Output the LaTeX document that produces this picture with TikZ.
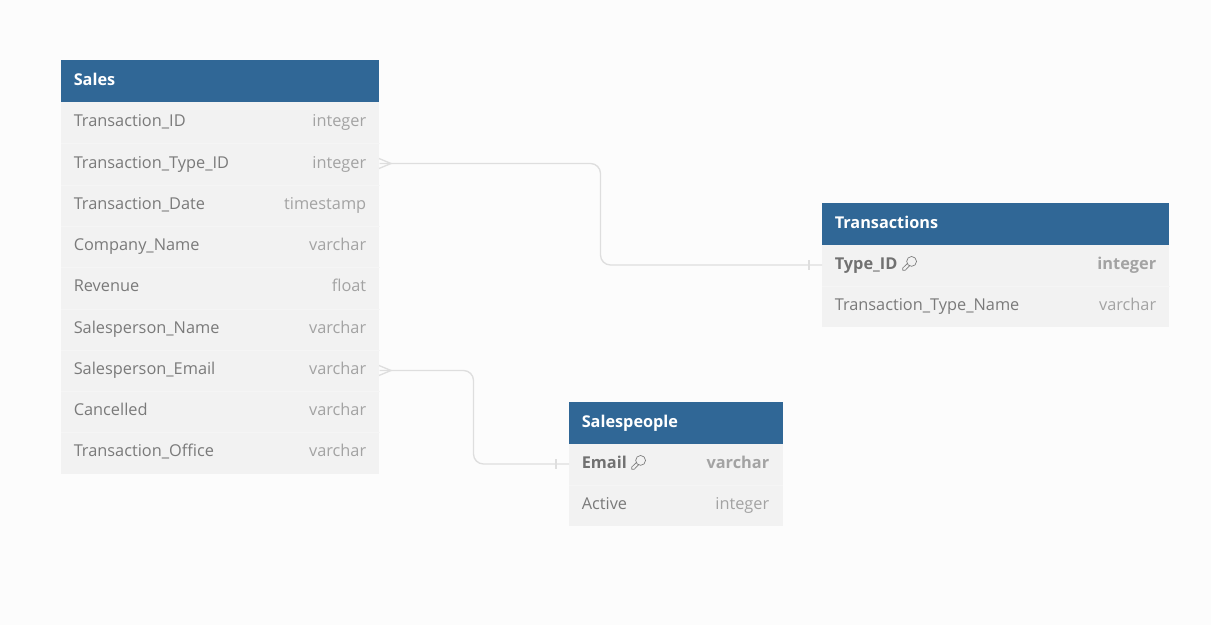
\documentclass[tikz,border=0pt]{standalone}
\usepackage{fontspec}
\setmainfont{Open Sans}
\usetikzlibrary{calc}
\definecolor{pagebg}{HTML}{FCFCFC}
\definecolor{headblue}{HTML}{306796}
\definecolor{rowbg}{HTML}{F2F2F2}
\definecolor{rowline}{HTML}{F5F5F5}
\definecolor{nametxt}{HTML}{7A7A7A}
\definecolor{typetxt}{HTML}{A3A3A3}
\definecolor{boldtxt}{HTML}{717171}
\definecolor{conn}{HTML}{DEDEDE}
\tikzset{
  x=0.75pt,y=-0.75pt,
  headbox/.style={fill=headblue,draw=none,inner sep=0pt,anchor=north west,minimum height=31pt},
  rowbox/.style={fill=rowbg,draw=none,inner sep=0pt,anchor=north west,minimum height=31pt},
  headtxt/.style={text=white,font=\fontsize{12.2}{14}\selectfont\bfseries,anchor=base west,inner sep=0pt},
  colname/.style={text=nametxt,font=\fontsize{12.25}{14}\selectfont,anchor=base west,inner sep=0pt},
  coltype/.style={text=typetxt,font=\fontsize{12.25}{14}\selectfont,anchor=base east,inner sep=0pt},
  keyname/.style={text=boldtxt,font=\fontsize{12.25}{14}\selectfont\bfseries,anchor=base west,inner sep=0pt},
  keytype/.style={text=typetxt,font=\fontsize{12.25}{14}\selectfont\bfseries,anchor=base east,inner sep=0pt},
  link/.style={draw=conn,line width=1pt,rounded corners=7.5pt},
  endmark/.style={draw=conn,line width=1pt},
  rowsep/.style={draw=rowline,line width=0.5pt},
  keyicon/.style={draw=nametxt,line width=0.5pt},
}
\newcommand{\keyglyph}[1]{%
  \draw[keyicon] ($(#1)+(2.6,-2.6)$) circle[radius=3.7pt];
  \draw[keyicon,line join=round] ($(#1)+(-1.2,-0.9)$) -- ($(#1)+(-6.3,4.0)$) -- ($(#1)+(-6.3,6.3)$) -- ($(#1)+(-3.8,6.3)$) -- ($(#1)+(1.0,1.3)$);
}
\begin{document}
\begin{tikzpicture}
\useasboundingbox[fill=pagebg] (0,0) rectangle (1211,625);
% ---- Sales
\node[headbox,minimum width=238.5pt] (sales) at (61,60) {};
\node[headtxt] (salesT) at (73.5,85) {Sales};
\foreach \n/\y/\a/\b in {
 r1/101.5/Transaction\_ID/integer,
 r2/143.2/Transaction\_Type\_ID/integer,
 r3/184.1/Transaction\_Date/timestamp,
 r4/225.4/Company\_Name/varchar,
 r5/266.7/Revenue/float,
 r6/308/Salesperson\_Name/varchar,
 r7/349.3/Salesperson\_Email/varchar,
 r8/390.6/Cancelled/varchar,
 r9/431.9/Transaction\_Office/varchar}{
  \node[rowbox,minimum width=238.5pt,minimum height=31.2pt] (\n) at (61,\y) {};
  \node[colname] (\n a) at (73.5,\y+25) {\a};
  \node[coltype] (\n b) at (366.5,\y+25) {\b};
}
\draw[rowsep] (r1.south west) -- (r1.south east);
\draw[rowsep] (r2.south west) -- (r2.south east);
\draw[rowsep] (r3.south west) -- (r3.south east);
\draw[rowsep] (r4.south west) -- (r4.south east);
\draw[rowsep] (r5.south west) -- (r5.south east);
\draw[rowsep] (r6.south west) -- (r6.south east);
\draw[rowsep] (r7.south west) -- (r7.south east);
\draw[rowsep] (r8.south west) -- (r8.south east);
% ---- Transactions
\node[headbox,minimum width=260.25pt] (trans) at (822,203) {};
\node[headtxt] (transT) at (834.5,228) {Transactions};
\node[rowbox,minimum width=260.25pt] (t1) at (822,244.5) {};
\node[rowbox,minimum width=260.25pt] (t2) at (822,285.5) {};
\draw[rowsep] (t1.south west) -- (t1.south east);
\node[keyname] (t1a) at (834.5,269.5) {Type\_ID};
\node[keytype] (t1b) at (1156.5,269.5) {integer};
\coordinate (t1k) at (909,264);
\keyglyph{t1k}
\node[colname] (t2a) at (834.5,310.5) {Transaction\_Type\_Name};
\node[coltype] (t2b) at (1156.5,310.5) {varchar};
% ---- Salespeople
\node[headbox,minimum width=160pt] (people) at (569,402) {};
\node[headtxt] (peopleT) at (581.5,427) {Salespeople};
\node[rowbox,minimum width=160pt] (p1) at (569,443.5) {};
\node[rowbox,minimum width=160pt] (p2) at (569,484.5) {};
\draw[rowsep] (p1.south west) -- (p1.south east);
\node[keyname] (p1a) at (581.5,468.5) {Email};
\node[keytype] (p1b) at (769.5,468.5) {varchar};
\coordinate (p1k) at (638,463);
\keyglyph{p1k}
\node[colname] (p2a) at (581.5,509.5) {Active};
\node[coltype] (p2b) at (769.5,509.5) {integer};
% ---- Connectors
\draw[link] (r2.east |- 0,163.5) -- (600.5,163.5) -- (600.5,265) -- (t1.west |- 0,265);
\draw[link] (r7.east |- 0,370.5) -- (473.5,370.5) -- (473.5,464) -- (p1.west |- 0,464);
\draw[endmark] (379,158.5) -- (391,163.5) -- (379,168.5);
\draw[endmark] (379,365.5) -- (391,370.5) -- (379,375.5);
\draw[endmark] (809,260) -- (809,270);
\draw[endmark] (556,459) -- (556,469);
\end{tikzpicture}
\end{document}
